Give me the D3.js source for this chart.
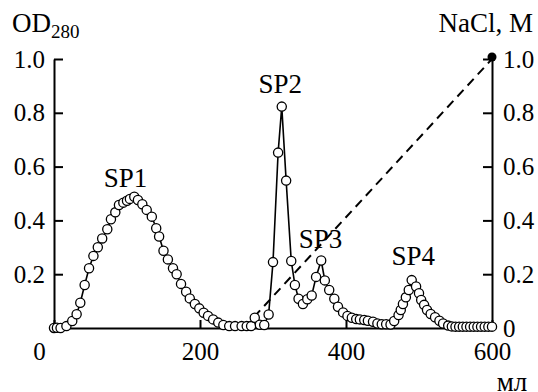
<!DOCTYPE html>
<html>
<head>
<meta charset="utf-8">
<script src="https://cdn.jsdelivr.net/npm/d3@7"></script>
<style>
  body { margin: 0; background: #fff; }
  svg text { font-family: "Liberation Serif", "Times New Roman", Tinos, "DejaVu Serif", serif !important; fill: #000; }
  .axis path, .axis line { stroke: #000; stroke-width: 2; }
  .axis text { font-size: 25px; }
</style>
</head>
<body>
<div id="viz"></div>
<script>
// elution volume, ml
const volume = [
  0, 4, 9, 17, 25, 31, 36, 42, 48, 54, 60, 66, 73, 78, 84, 89, 95, 100, 104, 110,
  115, 121, 127, 134, 140, 144, 150, 156, 163, 168, 174, 181, 186, 193, 199, 205, 211, 218, 225, 232,
  240, 248, 257, 264, 270, 275, 282, 288, 294, 300, 307, 312, 318, 325, 330, 335, 341, 347, 353, 359,
  366, 371, 377, 384, 389, 396, 402, 408, 414, 419, 425, 430, 437, 443, 449, 455, 461, 466, 472, 475,
  478, 482, 486, 490, 496, 500, 503, 507, 511, 516, 522, 528, 533, 540, 545, 550, 555, 560, 565, 570,
  575, 580, 585, 590, 595, 600
];

// absorbance at 280 nm
const od280 = [
  0, 0.001, 0, 0.007, 0.026, 0.051, 0.094, 0.16, 0.222, 0.268, 0.30, 0.333, 0.367, 0.404, 0.43, 0.457, 0.466, 0.473, 0.48, 0.488,
  0.476, 0.46, 0.439, 0.414, 0.371, 0.34, 0.287, 0.255, 0.222, 0.20, 0.164, 0.135, 0.11, 0.089, 0.073, 0.057, 0.045, 0.032, 0.02, 0.011,
  0.007, 0.007, 0.007, 0.007, 0.007, 0.038, 0.012, 0.011, 0.05, 0.245, 0.652, 0.823, 0.548, 0.249, 0.16, 0.109, 0.089, 0.107, 0.121, 0.19,
  0.251, 0.177, 0.141, 0.109, 0.079, 0.058, 0.045, 0.038, 0.033, 0.032, 0.03, 0.027, 0.023, 0.017, 0.014, 0.014, 0.013, 0.026, 0.048, 0.067,
  0.089, 0.114, 0.141, 0.178, 0.154, 0.129, 0.104, 0.086, 0.067, 0.052, 0.04, 0.027, 0.017, 0.009, 0.006, 0.005, 0.005, 0.005, 0.005, 0.005,
  0.005, 0.005, 0.005, 0.005, 0.005, 0.005
];

// NaCl gradient
const gradientVolume = [260, 600];
const gradientNaCl = [0, 1.0];

const peakNames = ['SP1', 'SP2', 'SP3', 'SP4'];
const peakVolume = [98, 310, 365, 492];
const peakLevel = [0.524, 0.874, 0.297, 0.234];

const xTickValues = [0, 200, 400, 600];
const leftTickValues = [0.2, 0.4, 0.6, 0.8, 1.0];
const rightTickValues = [0, 0.2, 0.4, 0.6, 0.8, 1.0];

const canvasWidth = 538;
const canvasHeight = 392;
const margin = { top: 59, right: 46, bottom: 64, left: 54 };
const plotWidth = canvasWidth - margin.left - margin.right;
const plotHeight = canvasHeight - margin.top - margin.bottom;

const xScale = d3.scaleLinear().domain([0, 600]).range([0, plotWidth]);
const yScale = d3.scaleLinear().domain([0, 1]).range([plotHeight, 0]);

const chart = d3.select('#viz')
  .append('svg')
  .attr('width', canvasWidth)
  .attr('height', canvasHeight);

const plot = chart.append('g')
  .attr('transform', `translate(${margin.left}, ${margin.top})`);

// axes
const xAxis = plot.append('g')
  .attr('class', 'axis')
  .attr('transform', `translate(0, ${plotHeight})`)
  .call(d3.axisBottom(xScale)
    .tickValues(xTickValues)
    .tickSizeInner(-8)
    .tickSizeOuter(0)
    .tickPadding(14)
    .tickFormat(d3.format('d')));

xAxis.selectAll('.tick text')
  .attr('dx', (d) => d === 0 ? -15 : 0);

plot.append('g')
  .attr('class', 'axis')
  .call(d3.axisLeft(yScale)
    .tickValues(leftTickValues)
    .tickSizeInner(-9)
    .tickSizeOuter(0)
    .tickPadding(9)
    .tickFormat(d3.format('.1f')));

plot.append('g')
  .attr('class', 'axis')
  .attr('transform', `translate(${plotWidth}, 0)`)
  .call(d3.axisRight(yScale)
    .tickValues(rightTickValues)
    .tickSizeInner(-9)
    .tickSizeOuter(0)
    .tickPadding(11)
    .tickFormat((d) => d === 0 ? '0' : d3.format('.1f')(d)));

// salt gradient
plot.append('line')
  .attr('x1', xScale(gradientVolume[0]))
  .attr('y1', yScale(gradientNaCl[0]))
  .attr('x2', xScale(gradientVolume[1]))
  .attr('y2', yScale(gradientNaCl[1]))
  .attr('stroke', '#000')
  .attr('stroke-width', 2)
  .attr('stroke-dasharray', '9,6');

plot.append('circle')
  .attr('cx', xScale(gradientVolume[1]))
  .attr('cy', yScale(gradientNaCl[1]) - 2)
  .attr('r', 4.5)
  .attr('fill', '#000');

// elution profile
const points = volume.map((v, i) => ({ v: v, od: od280[i] }));

const line = d3.line()
  .x((d) => xScale(d.v))
  .y((d) => yScale(d.od));

plot.append('path')
  .datum(points)
  .attr('fill', 'none')
  .attr('stroke', '#000')
  .attr('stroke-width', 1.6)
  .attr('d', line);

plot.selectAll('.dot').data(points)
  .enter().append('circle')
    .attr('class', 'dot')
    .attr('cx', (d) => xScale(d.v))
    .attr('cy', (d) => yScale(d.od))
    .attr('r', 4.6)
    .attr('fill', '#fff')
    .attr('stroke', '#000')
    .attr('stroke-width', 1.3);

// peak labels
plot.selectAll('.peak').data(peakNames)
  .enter().append('text')
    .attr('class', 'peak')
    .attr('x', (d, i) => xScale(peakVolume[i]))
    .attr('y', (d, i) => yScale(peakLevel[i]))
    .attr('text-anchor', 'middle')
    .attr('font-size', 27)
    .text((d) => d);

// axis titles
const yTitle = chart.append('text')
  .attr('x', 12)
  .attr('y', 32)
  .attr('font-size', 27);
yTitle.append('tspan').text('OD');
yTitle.append('tspan')
  .attr('font-size', 19)
  .attr('dy', 6)
  .text('280');

chart.append('text')
  .attr('x', 533)
  .attr('y', 32)
  .attr('text-anchor', 'end')
  .attr('font-size', 27)
  .text('NaCl, M');

chart.append('text')
  .attr('x', 512)
  .attr('y', 391)
  .attr('text-anchor', 'middle')
  .attr('font-size', 27)
  .text('мл');
</script>
</body>
</html>
